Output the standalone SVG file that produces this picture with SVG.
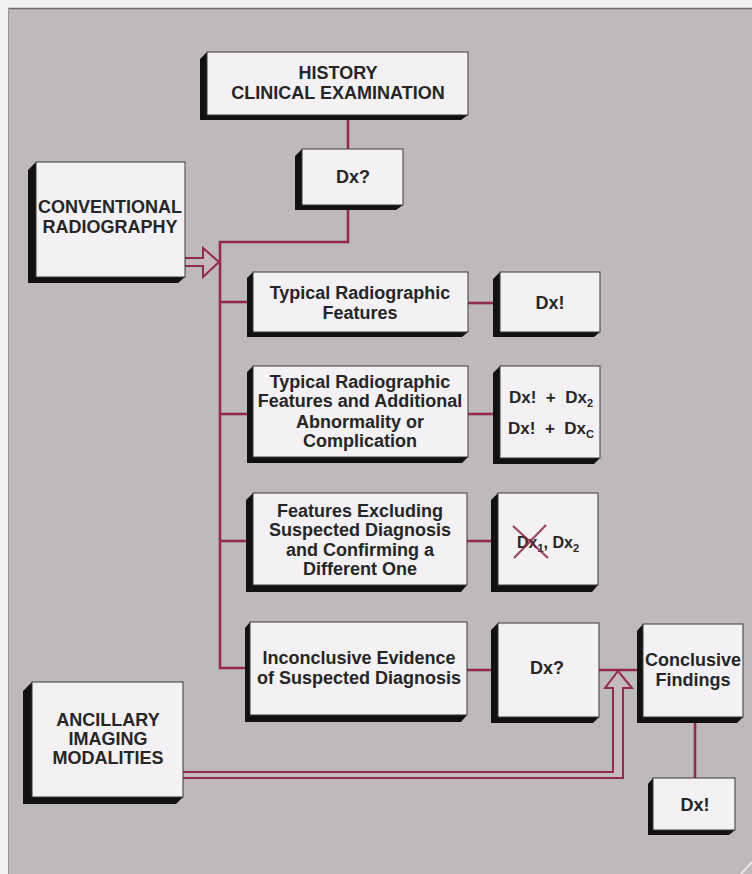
<svg xmlns="http://www.w3.org/2000/svg" width="752" height="874" viewBox="0 0 752 874">
  <style>
    .face { fill: #f3f1f3; stroke: #3a3a3a; stroke-width: 1; }
    .shade { fill: #111111; }
    .lbl { font-family: "Liberation Sans", Arial, Helvetica, sans-serif; font-weight: bold; font-size: 18px; fill: #262626; text-anchor: middle; }
    .sub { font-size: 11px; }
    .wire { fill: none; stroke: #922a4c; stroke-width: 2.6; stroke-linejoin: miter; }
    .hollow { fill: #c4b9bd; stroke: #922a4c; stroke-width: 2; stroke-linejoin: miter; }
  </style>

  <!-- page and panel -->
  <rect x="0" y="0" width="752" height="874" fill="#f3f1f3"/>
  <rect x="8" y="8" width="744" height="866" fill="#bebabc"/>
  <line x1="8" y1="8.5" x2="752" y2="8.5" stroke="#6e6a6c" stroke-width="1.5"/>
  <line x1="8.5" y1="8" x2="8.5" y2="874" stroke="#9a9698" stroke-width="1"/>
  <line x1="741" y1="874" x2="752" y2="862" stroke="#e8e6e8" stroke-width="2"/>

  <!-- connectors -->
  <g id="connectors">
    <path class="wire" d="M348,120 V149"/>
    <path class="wire" d="M348,210 V242 H220 V668 H245"/>
    <path class="wire" d="M220,302 H247"/>
    <path class="wire" d="M220,414 H247"/>
    <path class="wire" d="M220,541 H246"/>
    <path class="wire" d="M468,303 H493"/>
    <path class="wire" d="M468,414 H493"/>
    <path class="wire" d="M467,541 H491"/>
    <path class="wire" d="M467,670 H491"/>
    <path class="wire" d="M599,670 H637"/>
    <path class="wire" d="M695,723 V778"/>
    <!-- hollow arrow from conventional radiography into the trunk -->
    <path class="hollow" d="M185,258 H203 V248 L219,262 L203,277 V266 H185"/>
    <!-- hollow arrow from ancillary imaging up to the inconclusive row -->
    <path class="hollow" d="M183,772 H613 V688 H605 L618,671 L632,688 H623 V778 H183"/>
  </g>

  <g id="history">
    <polygon class="shade" points="207,52 200,59 200,120 461,120 468,115 207,115"/>
    <rect class="face" x="207" y="52" width="261" height="63"/>
    <text class="lbl" x="338" y="79">HISTORY</text>
    <text class="lbl" x="338" y="99">CLINICAL EXAMINATION</text>
  </g>

  <g id="dx-query-top">
    <polygon class="shade" points="302,149 295,156 295,210 396,210 403,205 302,205"/>
    <rect class="face" x="302" y="149" width="101" height="56"/>
    <text class="lbl" x="353" y="183">Dx?</text>
  </g>

  <g id="conventional">
    <polygon class="shade" points="36,162 28,170 28,283 178,283 185,277 36,277"/>
    <rect class="face" x="36" y="162" width="149" height="115"/>
    <text class="lbl" x="110" y="213">CONVENTIONAL</text>
    <text class="lbl" x="110" y="233">RADIOGRAPHY</text>
  </g>

  <g id="typical">
    <polygon class="shade" points="253,272 247,278 247,337 462,337 468,332 253,332"/>
    <rect class="face" x="253" y="272" width="215" height="60"/>
    <text class="lbl" x="360" y="299">Typical Radiographic</text>
    <text class="lbl" x="360" y="319">Features</text>
  </g>

  <g id="dx-typical">
    <polygon class="shade" points="500,272 493,279 493,337 594,337 600,332 500,332"/>
    <rect class="face" x="500" y="272" width="100" height="60"/>
    <text class="lbl" x="550" y="309">Dx!</text>
  </g>

  <g id="typical-additional">
    <polygon class="shade" points="253,366 247,372 247,463 462,463 468,457 253,457"/>
    <rect class="face" x="253" y="366" width="215" height="91"/>
    <text class="lbl" x="360" y="388">Typical Radiographic</text>
    <text class="lbl" x="360" y="407">Features and Additional</text>
    <text class="lbl" x="360" y="428">Abnormality or</text>
    <text class="lbl" x="360" y="447">Complication</text>
  </g>

  <g id="dx-additional">
    <polygon class="shade" points="500,366 493,373 493,464 594,464 600,458 500,458"/>
    <rect class="face" x="500" y="366" width="100" height="92"/>
    <text class="lbl" x="551" y="403" style="font-size:17px" xml:space="preserve">Dx!  +  Dx<tspan class="sub" dy="4">2</tspan></text>
    <text class="lbl" x="551" y="434" style="font-size:17px" xml:space="preserve">Dx!  +  Dx<tspan class="sub" dy="4">C</tspan></text>
  </g>

  <g id="excluding">
    <polygon class="shade" points="253,493 246,500 246,592 461,592 467,585 253,585"/>
    <rect class="face" x="253" y="493" width="214" height="92"/>
    <text class="lbl" x="360" y="517">Features Excluding</text>
    <text class="lbl" x="360" y="536">Suspected Diagnosis</text>
    <text class="lbl" x="360" y="556">and Confirming a</text>
    <text class="lbl" x="360" y="575">Different One</text>
  </g>

  <g id="dx-excluding">
    <polygon class="shade" points="498,493 491,500 491,592 592,592 598,585 498,585"/>
    <rect class="face" x="498" y="493" width="100" height="92"/>
    <text class="lbl" x="548" y="548" style="font-size:16px">Dx<tspan class="sub" dy="4">1</tspan><tspan dy="-4">, Dx</tspan><tspan class="sub" dy="4">2</tspan></text>
    <path d="M513,526 L548,558 M546,525 L514,558" stroke="#8a2a48" stroke-width="2.2" fill="none" opacity="0.85"/>
  </g>

  <g id="inconclusive">
    <polygon class="shade" points="250,622 245,628 245,722 461,722 467,715 250,715"/>
    <rect class="face" x="250" y="622" width="217" height="93"/>
    <text class="lbl" x="359" y="664">Inconclusive Evidence</text>
    <text class="lbl" x="359" y="684">of Suspected Diagnosis</text>
  </g>

  <g id="dx-inconclusive">
    <polygon class="shade" points="498,623 491,630 491,723 593,723 599,717 498,717"/>
    <rect class="face" x="498" y="623" width="101" height="94"/>
    <text class="lbl" x="547" y="674">Dx?</text>
  </g>

  <g id="conclusive">
    <polygon class="shade" points="643,624 637,631 637,723 737,723 743,717 643,717"/>
    <rect class="face" x="643" y="624" width="100" height="93"/>
    <text class="lbl" x="693" y="666">Conclusive</text>
    <text class="lbl" x="693" y="686">Findings</text>
  </g>

  <g id="dx-final">
    <polygon class="shade" points="653,778 648,784 648,835 729,835 735,830 653,830"/>
    <rect class="face" x="653" y="778" width="82" height="52"/>
    <text class="lbl" x="695" y="811">Dx!</text>
  </g>

  <g id="ancillary">
    <polygon class="shade" points="32,682 23,691 23,804 176,804 183,797 32,797"/>
    <rect class="face" x="32" y="682" width="151" height="115"/>
    <text class="lbl" x="108" y="726">ANCILLARY</text>
    <text class="lbl" x="108" y="745">IMAGING</text>
    <text class="lbl" x="108" y="764">MODALITIES</text>
  </g>
</svg>
